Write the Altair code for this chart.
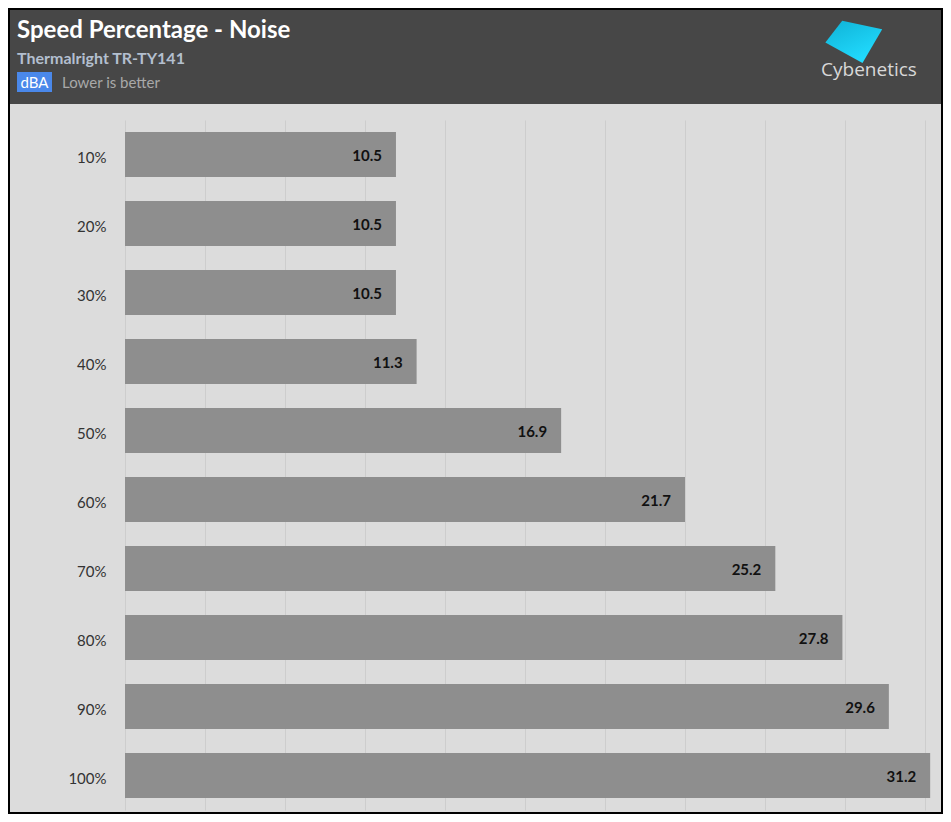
import altair as alt
import pandas as pd

# ---- data ----
speeds = ["10%", "20%", "30%", "40%", "50%", "60%", "70%", "80%", "90%", "100%"]
noise = [10.5, 10.5, 10.5, 11.3, 16.9, 21.7, 25.2, 27.8, 29.6, 31.2]
x_ticks = [0, 3.1, 6.2, 9.3, 12.4, 15.5, 18.6, 21.7, 24.8, 27.9, 31.0]

title_text = "Speed Percentage - Noise"
subtitle_text = "Thermalright TR-TY141"
unit_text = "dBA"
note_text = "Lower is better"
brand_text = "Cybenetics"

df = pd.DataFrame({"speed": speeds, "noise": noise})

# ---- layout ----
W, H = 800, 690
PL, PT, PR, PB = 117, 112, 18, 4
TOTAL_W = PL + W + PR
TOTAL_H = PT + H + PB
FONT = "Lato"


def one(v):
    return alt.Chart(pd.DataFrame({"t": [v]}))


x_enc = alt.X(
    "noise:Q",
    scale=alt.Scale(domain=[0, 31], nice=False, zero=True),
    axis=alt.Axis(values=x_ticks, labels=False, ticks=False, domain=False,
                  grid=True, gridColor="#cdcdcd", gridWidth=1, title=None),
)
y_enc = alt.Y(
    "speed:N",
    sort=speeds,
    scale=alt.Scale(paddingInner=0.35, paddingOuter=0.175),
    axis=alt.Axis(title=None, ticks=False, domain=False, labelPadding=19,
                  labelFontSize=15, labelColor="#333333", labelFont=FONT,
                  labelOffset=3),
)

bars = alt.Chart(df).mark_bar(color="#8e8e8e", clip=False).encode(x=x_enc, y=y_enc)

labels = alt.Chart(df).mark_text(
    align="right", baseline="middle", dx=-14, dy=1, font=FONT,
    fontWeight="bold", fontSize=15, color="#111111"
).encode(
    x="noise:Q",
    y=alt.Y("speed:N", sort=speeds),
    text=alt.Text("noise:Q", format=".1f"),
)

header_bg = one("").mark_rect(color="#474747").encode(
    x=alt.value(-PL), x2=alt.value(W + PR),
    y=alt.value(-PT), y2=alt.value(-16),
)

title = one(title_text).mark_text(
    align="left", baseline="alphabetic", font=FONT, fontWeight="bold",
    fontSize=24, color="#ffffff"
).encode(x=alt.value(-108), y=alt.value(-82), text="t:N")

subtitle = one(subtitle_text).mark_text(
    align="left", baseline="alphabetic", font=FONT, fontWeight="bold",
    fontSize=16, color="#b3bfcf"
).encode(x=alt.value(-108), y=alt.value(-56), text="t:N")

badge = one("").mark_rect(color="#4a88ea").encode(
    x=alt.value(-108), x2=alt.value(-73),
    y=alt.value(-48), y2=alt.value(-28),
)

badge_text = one(unit_text).mark_text(
    align="center", baseline="alphabetic", font=FONT,
    fontSize=15, color="#ffffff"
).encode(x=alt.value(-90.5), y=alt.value(-32), text="t:N")

note = one(note_text).mark_text(
    align="left", baseline="alphabetic", font=FONT,
    fontSize=15, color="#a9a9a9"
).encode(x=alt.value(-63), y=alt.value(-32), text="t:N")

logo_shape = one("").mark_point(
    shape="M -0.39 -0.73 L 0.99 -0.44 L 0.31 0.72 L -0.97 0.02 Z",
    filled=True, size=3364, opacity=1,
    color=alt.Gradient(
        gradient="linear",
        stops=[alt.GradientStop(color="#0fb2d6", offset=0),
               alt.GradientStop(color="#22dcff", offset=1)],
        x1=0, x2=0.6, y1=0, y2=1,
    ),
).encode(x=alt.value(728.5), y=alt.value(-78))

brand = one(brand_text).mark_text(
    align="center", baseline="alphabetic", font="Open Sans",
    fontSize=19, color="#d8d8d8"
).encode(x=alt.value(744), y=alt.value(-44), text="t:N")

border = one("").mark_rect(filled=False, stroke="#000000", strokeWidth=2).encode(
    x=alt.value(-PL + 1), x2=alt.value(W + PR - 1),
    y=alt.value(-PT + 1), y2=alt.value(H + PB - 1),
)

chart = alt.layer(
    header_bg, bars, labels, title, subtitle, badge, badge_text, note,
    logo_shape, brand, border,
).properties(
    width=W, height=H,
    padding={"left": PL, "top": PT, "right": PR, "bottom": PB},
    autosize="none",
    background="#dcdcdc",
).configure_view(strokeWidth=0)

chart.save("out.html", embed_options={"renderer": "svg", "actions": False})
